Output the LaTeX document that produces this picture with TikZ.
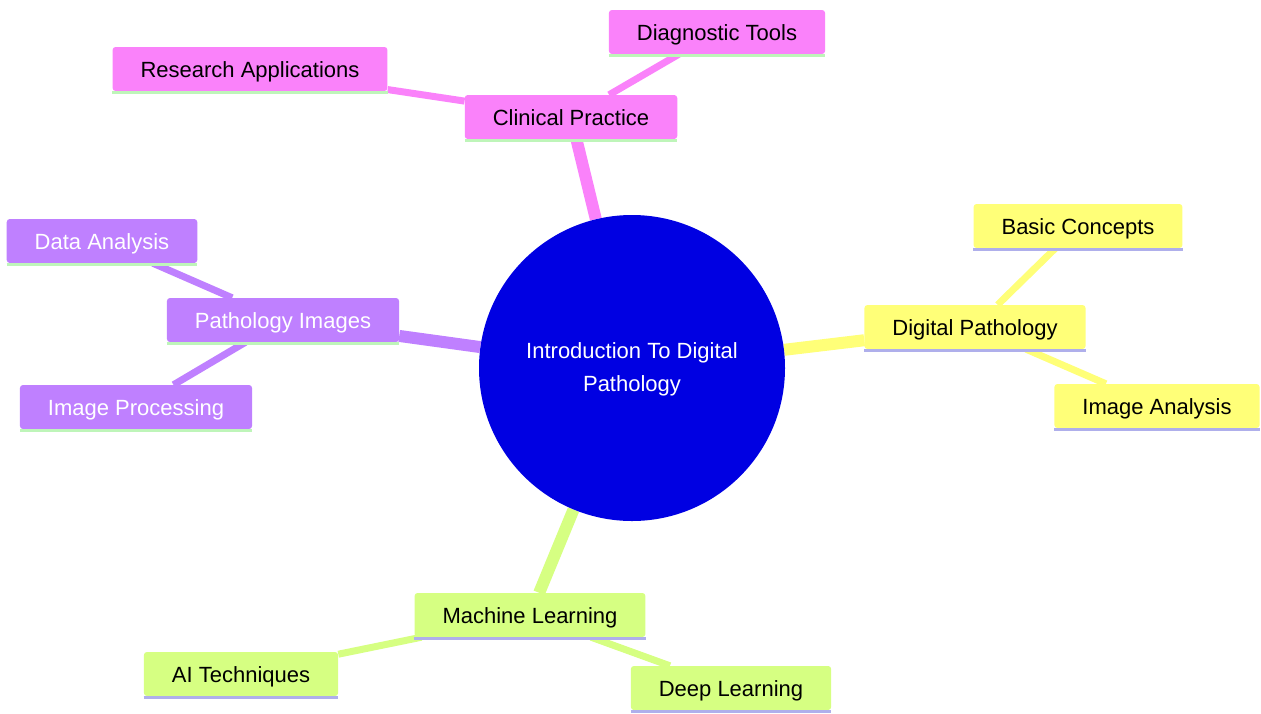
\documentclass[tikz,border=0pt]{standalone}
\usepackage{fontspec}
\setmainfont{Liberation Sans}
\usetikzlibrary{backgrounds}
\definecolor{cpink}{RGB}{250,130,250}
\definecolor{cpurple}{RGB}{191,128,255}
\definecolor{cyellow}{RGB}{255,255,120}
\definecolor{cgreen}{RGB}{214,255,130}
\definecolor{ulgreen}{RGB}{190,245,185}
\definecolor{ullav}{RGB}{175,175,235}
\definecolor{cblue}{RGB}{0,0,226}
\tikzset{
  box/.style={rounded corners=3pt, minimum height=44pt, inner xsep=28pt, inner ysep=0pt,
    text height=16pt, text depth=0pt,
    font=\fontsize{22}{26}\selectfont},
  pinkbox/.style={box, fill=cpink, text=black},
  purplebox/.style={box, fill=cpurple, text=white},
  yellowbox/.style={box, fill=cyellow, text=black},
  greenbox/.style={box, fill=cgreen, text=black},
  root/.style={circle, fill=cblue, text=white, minimum size=306pt, inner sep=0pt,
    font=\fontsize{22}{33}\selectfont},
  mainedge/.style={line width=12pt},
  subedge/.style={line width=7pt},
  uline/.style={line width=3pt}
}
\begin{document}
\begin{tikzpicture}[x=1pt,y=-1pt]
\useasboundingbox (0,0) rectangle (1261,713);
\node[root] (r) at (632,368) {\raisebox{-3pt}{\begin{tabular}{@{}c@{}}Introduction To Digital\\Pathology\end{tabular}}};
\node[pinkbox] (cp) at (571,117) {Clinical Practice};
\node[pinkbox] (dt) at (717,32) {Diagnostic Tools};
\node[pinkbox] (ra) at (250,69) {Research Applications};
\node[yellowbox] (dp) at (975,327) {Digital Pathology};
\node[yellowbox] (bc) at (1078,226) {Basic Concepts};
\node[yellowbox] (ia) at (1157,406) {Image Analysis};
\node[purplebox] (pi) at (283,320) {Pathology Images};
\node[purplebox] (da) at (102,241) {Data Analysis};
\node[purplebox] (ip) at (136,407) {Image Processing};
\node[greenbox] (ml) at (530,615) {Machine Learning};
\node[greenbox] (ai) at (241,674) {AI Techniques};
\node[greenbox] (dl) at (731,688) {Deep Learning};
\foreach \n/\c in {cp/ulgreen,dt/ulgreen,ra/ulgreen,pi/ulgreen,da/ulgreen,ip/ulgreen,
  dp/ullav,bc/ullav,ia/ullav,ml/ullav,ai/ullav,dl/ullav}
  \draw[uline,\c] ([yshift=-1.5pt]\n.south west) -- ([yshift=-1.5pt]\n.south east);
\begin{pgfonlayer}{background}
\draw[mainedge,cpink] (r) -- (cp);
\draw[mainedge,cyellow] (r) -- (dp);
\draw[mainedge,cpurple] (r) -- (pi);
\draw[mainedge,cgreen] (r) -- (ml);
\draw[subedge,cpink] (cp) -- (dt);
\draw[subedge,cpink] (cp) -- (ra);
\draw[subedge,cyellow] (dp) -- (bc);
\draw[subedge,cyellow] (dp) -- (ia);
\draw[subedge,cpurple] (pi) -- (da);
\draw[subedge,cpurple] (pi) -- (ip);
\draw[subedge,cgreen] (ml) -- (ai);
\draw[subedge,cgreen] (ml) -- (dl);
\end{pgfonlayer}
\end{tikzpicture}
\end{document}
